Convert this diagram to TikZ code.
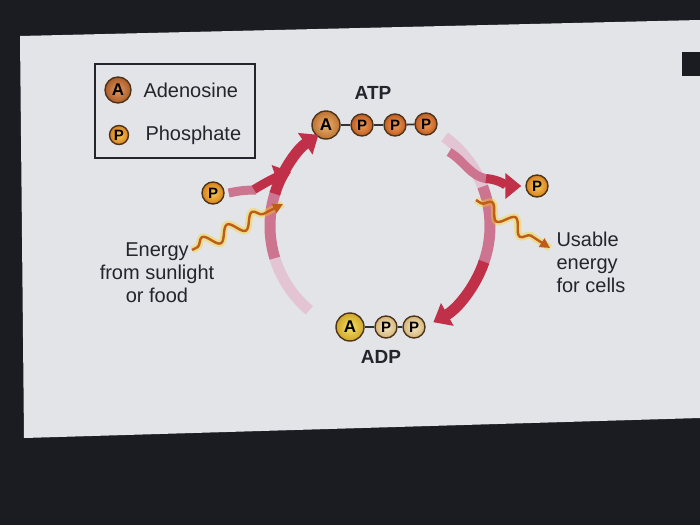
\documentclass[tikz,border=0pt]{standalone}
\usepackage{fontspec}
\setmainfont{Liberation Sans}
\usetikzlibrary{arrows.meta,decorations.pathmorphing}

\definecolor{screen}{RGB}{226,228,232}
\definecolor{frame}{RGB}{26,28,34}
\definecolor{ink}{RGB}{36,36,44}
\definecolor{cycA}{RGB}{226,196,210}
\definecolor{cycB}{RGB}{204,116,144}
\definecolor{cycC}{RGB}{192,48,72}
\definecolor{waveC}{RGB}{190,92,28}

\tikzset{
  ballbase/.style={circle, draw=black!60!brown, line width=1.4pt, inner sep=0pt, shading=radial},
  adeno/.style={ballbase, minimum size=28pt, font=\bfseries\fontsize{17}{17}\selectfont},
  phos/.style={ballbase, minimum size=22pt, font=\bfseries\fontsize{15}{15}\selectfont},
  keyA/.style={inner color={rgb,255:red,228;green,152;blue,92}, outer color={rgb,255:red,170;green,92;blue,42}},
  atpA/.style={inner color={rgb,255:red,238;green,178;blue,108}, outer color={rgb,255:red,188;green,114;blue,52}},
  atpP/.style={inner color={rgb,255:red,242;green,156;blue,84}, outer color={rgb,255:red,192;green,94;blue,36}},
  freeP/.style={inner color={rgb,255:red,250;green,202;blue,84}, outer color={rgb,255:red,214;green,128;blue,30}},
  adpA/.style={inner color={rgb,255:red,246;green,226;blue,104}, outer color={rgb,255:red,206;green,166;blue,40}},
  adpP/.style={inner color={rgb,255:red,246;green,232;blue,194}, outer color={rgb,255:red,212;green,180;blue,120}},
  bond/.style={line width=1.8pt, draw=black!80},
  cyc/.style={line width=11pt},
  bigtip/.style={-{Triangle[length=16pt,width=25pt]}},
  glow/.style={line width=7pt, draw=yellow!70!orange, opacity=0.4, decorate,
    decoration={snake, amplitude=7pt, segment length=28pt, pre length=6pt, post length=10pt}},
  wave/.style={line width=2.4pt, draw=waveC, decorate, -{Triangle[length=10pt,width=10pt]},
    decoration={snake, amplitude=7pt, segment length=28pt, pre length=6pt, post length=10pt}},
  txt/.style={text=ink, font=\fontsize{20}{23}\selectfont}
}

\begin{document}
\begin{tikzpicture}[x=1pt,y=1pt]
  \useasboundingbox (0,0) rectangle (700,-525);
  % screen photo
  \fill[frame] (0,0) rectangle (700,-525);
  \fill[screen] (20,-36) -- (700,-20) -- (700,-418) -- (24,-438) -- cycle;
  \fill[frame] (682,-52) rectangle (700,-76);

  % legend
  \draw[line width=1.3pt, draw=ink] (95,-64) rectangle (255,-158);
  \node[adeno, keyA, minimum size=26pt] (keyA) at (118,-90) {A};
  \node[phos, freeP, minimum size=19pt] (keyP) at (119,-135) {P};
  \node[txt, anchor=west] (keyAtxt) at (140,-90) {Adenosine};
  \node[txt, anchor=west] (keyPtxt) at (142,-135) {Phosphate};

  % ATP
  \node[txt, font=\bfseries\fontsize{19}{19}\selectfont] (atp) at (373,-93) {ATP};
  \node[adeno, atpA] (atpA) at (326,-125) {A};
  \node[phos, atpP] (atpP1) at (362,-125) {P};
  \node[phos, atpP] (atpP2) at (395,-125) {P};
  \node[phos, atpP] (atpP3) at (426,-124) {P};
  \draw[bond] (atpA) -- (atpP1);
  \draw[bond] (atpP1) -- (atpP2);
  \draw[bond] (atpP2) -- (atpP3);

  % ADP
  \node[adeno, adpA] (adpA) at (350,-327) {A};
  \node[phos, adpP] (adpP1) at (386,-327) {P};
  \node[phos, adpP] (adpP2) at (414,-327) {P};
  \draw[bond] (adpA) -- (adpP1);
  \draw[bond] (adpP1) -- (adpP2);
  \node[txt, font=\bfseries\fontsize{19}{19}\selectfont] (adp) at (381,-357) {ADP};

  % cycle
  \coordinate (mid) at (380,-226);
  \draw[cyc, cycA] (mid) ++(230:110pt) arc[start angle=230, end angle=196, radius=110pt];
  \draw[cyc, cycB] (mid) ++(197:110pt) arc[start angle=197, end angle=162, radius=110pt];
  \draw[cyc, cycC, bigtip] (mid) ++(163:110pt) arc[start angle=163, end angle=124, radius=110pt];
  \draw[cyc, cycA] (mid) ++(54:110pt) arc[start angle=54, end angle=20, radius=110pt];
  \draw[cyc, cycB] (mid) ++(21:110pt) arc[start angle=21, end angle=-20, radius=110pt];
  \draw[cyc, cycC, bigtip] (mid) ++(-19:110pt) arc[start angle=-19, end angle=-61, radius=110pt];

  % phosphate in and out
  \node[phos, freeP] (pIn) at (213,-193) {P};
  \node[phos, freeP] (pOut) at (537,-186) {P};
  \coordinate (joinIn) at (291,-172);
  \coordinate (splitOut) at (449,-152);
  \draw[cyc, cycB, line width=9pt] ([xshift=4pt]pIn.east) to[bend left=6] (256,-190);
  \draw[cyc, cycC, line width=9pt, bigtip] (254,-189.5) to[bend left=6] (joinIn);
  \draw[cyc, cycB, line width=9pt] (splitOut) to[out=-30,in=172] (488,-179);
  \draw[cyc, cycC, line width=9pt, bigtip] (486,-178.5) to[out=-5,in=180] ([xshift=-4pt]pOut.west);

  % energy
  \node[txt, align=center] (enIn) at (157,-273) {Energy\\from sunlight\\or food};
  \node[txt, align=left, anchor=west] (enOut) at (553,-262) {Usable\\energy\\for cells};
  \coordinate (waveInStart) at (192,-250);
  \coordinate (waveInEnd) at (283,-204);
  \coordinate (waveOutStart) at (476,-200);
  \coordinate (waveOutEnd) at (550,-248);
  \draw[glow] (waveInStart) -- (waveInEnd);
  \draw[wave] (waveInStart) -- (waveInEnd);
  \draw[glow] (waveOutStart) -- (waveOutEnd);
  \draw[wave] (waveOutStart) -- (waveOutEnd);
\end{tikzpicture}
\end{document}
